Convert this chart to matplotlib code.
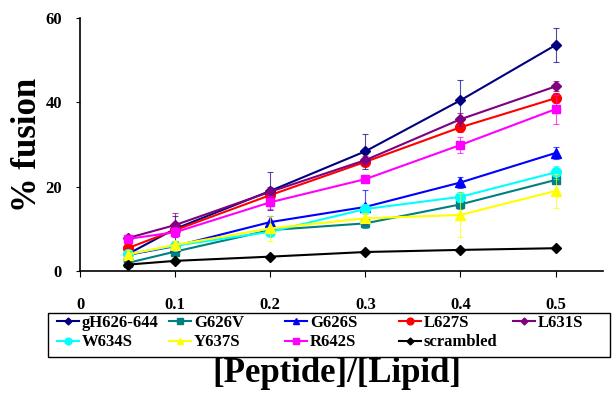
import matplotlib.pyplot as plt
from matplotlib.patches import Rectangle
import numpy as np

plt.rcParams['font.family'] = ['Liberation Serif', 'DejaVu Serif']
plt.rcParams['font.weight'] = 'bold'

ratio = [0.05, 0.1, 0.2, 0.3, 0.4, 0.5]

names = ['gH626-644', 'G626V', 'G626S', 'L627S', 'L631S',
         'W634S', 'Y637S', 'R642S', 'scrambled']

gH626_644 = [4.0, 10.0, 19.0, 28.4, 40.5, 53.6]
G626V = [1.9, 4.6, 9.7, 11.3, 15.8, 21.6]
G626S = [3.8, 5.9, 11.6, 15.2, 21.0, 28.0]
L627S = [5.4, 9.7, 18.0, 25.9, 34.1, 41.0]
L631S = [7.8, 10.9, 18.8, 26.3, 36.0, 43.8]
W634S = [4.0, 6.0, 9.3, 14.7, 17.6, 23.4]
Y637S = [3.9, 6.2, 10.1, 12.5, 13.3, 19.0]
R642S = [7.6, 9.2, 16.3, 21.8, 29.9, 38.4]
scrambled = [1.5, 2.4, 3.4, 4.5, 5.0, 5.4]

# error bar sizes
err_gH = [1.0, 3.0, 4.5, 4.2, 4.8, 4.0]
err_G626V = [0.5, 0.8, 1.0, 1.0, 1.2, 1.0]
err_G626S = [0.5, 0.8, 1.5, 4.0, 1.2, 1.5]
err_L627S = [0.8, 1.5, 1.0, 1.0, 1.2, 1.2]
err_L631S = [0.8, 2.8, 1.2, 1.0, 1.5, 1.2]
err_W634S = [0.5, 0.8, 1.0, 1.0, 1.2, 1.5]
err_Y637S = [1.0, 1.0, 3.0, 1.2, 5.3, 4.0]
err_R642S = [0.6, 1.2, 1.5, 1.0, 2.0, 3.4]
err_scr = [0.2, 0.2, 0.2, 0.2, 0.2, 0.2]

series = [gH626_644, G626V, G626S, L627S, L631S, W634S, Y637S, R642S, scrambled]
errors = [err_gH, err_G626V, err_G626S, err_L627S, err_L631S,
          err_W634S, err_Y637S, err_R642S, err_scr]
colors = ['#000080', '#008080', '#0000FF', '#FF0000', '#800080',
          '#00FFFF', '#FFFF00', '#FF00FF', '#000000']
markers = ['D', 's', '^', 'o', 'D', 'o', '^', 's', 'D']
msizes = [5, 6, 7, 7, 5, 7, 7, 6, 5]

fig = plt.figure(figsize=(6.16, 3.95), dpi=100)
ax = fig.add_axes([0.13, 0.314, 0.849, 0.64])

handles = []
for y, e, c, m, ms, n in zip(series, errors, colors, markers, msizes, names):
    ax.errorbar(ratio, y, yerr=e, fmt='none', ecolor=c, elinewidth=0.8,
                capsize=2, capthick=0.8, alpha=0.7)
    h, = ax.plot(ratio, y, color=c, marker=m, markersize=ms, lw=1.5, label=n)
    handles.append(h)

ax.set_xlim(0, 0.55)
ax.set_ylim(0, 60)
ax.set_xticks([0, 0.1, 0.2, 0.3, 0.4, 0.5])
ax.set_xticklabels(['0', '0.1', '0.2', '0.3', '0.4', '0.5'])
ax.set_yticks([0, 20, 40, 60])
ax.spines['top'].set_visible(False)
ax.spines['right'].set_visible(False)
ax.spines['left'].set_linewidth(1.2)
ax.spines['bottom'].set_linewidth(1.2)
ax.tick_params(axis='x', direction='out', length=4, pad=15, labelsize=12)
ax.tick_params(axis='y', direction='out', length=3, pad=10, labelsize=12)

ax.set_ylabel('% fusion', fontsize=25, fontweight='bold', labelpad=1)
fig.text(0.547, 0.055, '[Peptide]/[Lipid]', fontsize=25, fontweight='bold',
         ha='center', va='center')

# legend: Excel-style equal-width columns, two rows, one framed box
fig.patches.append(Rectangle((0.078, 0.096), 0.912, 0.112, transform=fig.transFigure,
                             fill=False, edgecolor='black', lw=1.0))
col_x = [57, 169, 285, 399, 513]
cols = [[0, 5], [1, 6], [2, 7], [3, 8], [4]]
for x, idx in zip(col_x, cols):
    fig.legend([handles[i] for i in idx], [names[i] for i in idx],
               loc='upper left', bbox_to_anchor=(x / 616, 1 - 315 / 395),
               frameon=False, fontsize=12, handlelength=1.3, handletextpad=0.2,
               labelspacing=0.2, borderpad=0, borderaxespad=0, markerscale=0.7)

fig.savefig('out.png', dpi=100)
